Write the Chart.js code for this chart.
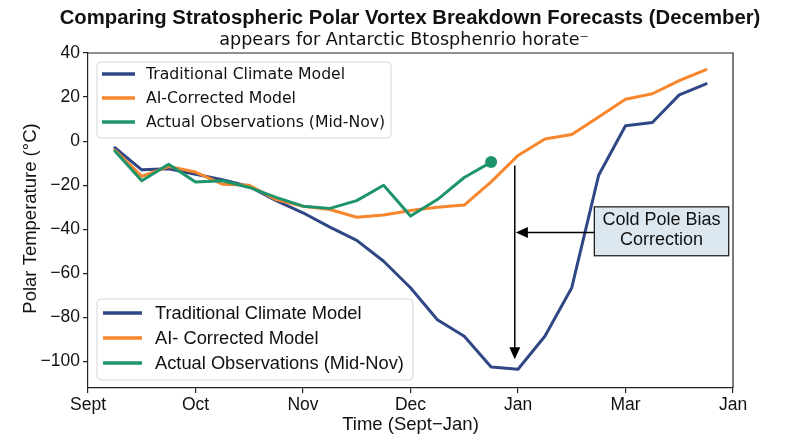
<!DOCTYPE html>
<html>
<head>
<meta charset="utf-8">
<script src="https://cdn.jsdelivr.net/npm/chart.js@4.4.1/dist/chart.umd.min.js"></script>
<style>
  html, body { margin: 0; padding: 0; background: #ffffff; }
  #wrap { width: 800px; height: 447px; }
</style>
</head>
<body>
<div id="wrap"><canvas id="c" width="800" height="447"></canvas></div>
<script>
// ---------- data ----------
const titleText = 'Comparing Stratospheric Polar Vortex Breakdown Forecasts (December)';
const subtitleText = 'appears for Antarctic Btosphenrio horate\u207B';
const xAxisTitle = 'Time (Sept\u2212Jan)';
const yAxisTitle = 'Polar Temperature (\u00B0C)';

const monthTickLabels = ['Sept', 'Oct', 'Nov', 'Dec', 'Jan', 'Mar', 'Jan'];
const yTickValues = [40, 20, 0, -20, -40, -60, -80, -100];

const modelTimes = [0.25, 0.5, 0.75, 1.0, 1.25, 1.5, 1.75, 2.0, 2.25, 2.5, 2.75, 3.0,
                    3.25, 3.5, 3.75, 4.0, 4.25, 4.5, 4.75, 5.0, 5.25, 5.5, 5.75];
const obsTimes = [0.25, 0.5, 0.75, 1.0, 1.25, 1.5, 1.75, 2.0, 2.25, 2.5, 2.75, 3.0,
                  3.25, 3.5, 3.75];

const traditionalModel = [-3, -13, -12.5, -15, -17.5, -20.5, -27, -32.5, -39, -45, -54.5, -66.5,
                          -81, -88.5, -102.5, -103.5, -88.5, -66.5, -15.5, 7, 8.5, 21, 26];
const aiCorrectedModel = [-4, -16, -11.5, -14, -19.5, -20, -26.5, -29.5, -31, -34.5, -33.5, -31.5,
                          -30, -29, -18.5, -6.5, 1, 3, 11, 19, 21.5, 27.5, 32.5];
const actualObservations = [-4.5, -18, -10.5, -18.5, -18, -21, -25.5, -29.5, -30.5, -27, -20, -34,
                            -26.5, -16.5, -9.5];

const seriesLabels = ['Traditional Climate Model', 'AI-Corrected Model', 'Actual Observations (Mid-Nov)'];
const secondLegendLabels = ['Traditional Climate Model', 'AI- Corrected Model', 'Actual Observations (Mid-Nov)'];

// annotation anchors (data coordinates)
const verticalArrow = { x: 3.97, yStart: -11, yEnd: -99 };
const horizontalArrow = { xStart: 4.71, xEnd: 3.98, y: -41.5 };
const noteBox = { x1: 4.71, x2: 5.96, y1: -29.8, y2: -52 };
const noteLines = ['Cold Pole Bias', 'Correction'];
const noteLineY = [-35.6, -44.8];

// ---------- styles ----------
const NAVY = '#2f4885';
const ORANGE = '#f7862d';
const GREEN = '#1e946a';
const AXIS = '#222222';

function pts(xs, ys) { return xs.map((x, i) => ({ x: x, y: ys[i] })); }

const decorPlugin = {
  id: 'decor',
  afterDatasetsDraw(chart) {
    const ctx = chart.ctx;
    const xs = chart.scales.x, ys = chart.scales.y;
    const ca = chart.chartArea;
    ctx.save();

    // frame top + right
    ctx.strokeStyle = AXIS;
    ctx.lineWidth = 1.2;
    ctx.beginPath();
    ctx.moveTo(ca.left, ca.top);
    ctx.lineTo(ca.right, ca.top);
    ctx.lineTo(ca.right, ca.bottom);
    ctx.stroke();

    // vertical arrow
    const vx = xs.getPixelForValue(verticalArrow.x);
    const vy1 = ys.getPixelForValue(verticalArrow.yStart);
    const vy2 = ys.getPixelForValue(verticalArrow.yEnd);
    ctx.strokeStyle = '#000';
    ctx.fillStyle = '#000';
    ctx.lineWidth = 1.5;
    ctx.beginPath();
    ctx.moveTo(vx, vy1);
    ctx.lineTo(vx, vy2 - 10);
    ctx.stroke();
    ctx.beginPath();
    ctx.moveTo(vx, vy2);
    ctx.lineTo(vx - 5.5, vy2 - 12);
    ctx.lineTo(vx + 5.5, vy2 - 12);
    ctx.closePath();
    ctx.fill();

    // horizontal arrow
    const hx1 = xs.getPixelForValue(horizontalArrow.xStart);
    const hx2 = xs.getPixelForValue(horizontalArrow.xEnd);
    const hy = ys.getPixelForValue(horizontalArrow.y);
    ctx.beginPath();
    ctx.moveTo(hx1, hy);
    ctx.lineTo(hx2 + 10, hy);
    ctx.stroke();
    ctx.beginPath();
    ctx.moveTo(hx2, hy);
    ctx.lineTo(hx2 + 12, hy - 5.5);
    ctx.lineTo(hx2 + 12, hy + 5.5);
    ctx.closePath();
    ctx.fill();

    // note box
    const bx1 = xs.getPixelForValue(noteBox.x1), bx2 = xs.getPixelForValue(noteBox.x2);
    const by1 = ys.getPixelForValue(noteBox.y1), by2 = ys.getPixelForValue(noteBox.y2);
    ctx.fillStyle = '#dce7f0';
    ctx.fillRect(bx1, by1, bx2 - bx1, by2 - by1);
    ctx.lineWidth = 1.2;
    ctx.strokeStyle = '#111';
    ctx.strokeRect(bx1, by1, bx2 - bx1, by2 - by1);
    ctx.fillStyle = '#111';
    ctx.font = '18px "Liberation Sans", Arial, sans-serif';
    ctx.textAlign = 'center';
    ctx.textBaseline = 'middle';
    noteLines.forEach((t, i) => {
      ctx.fillText(t, (bx1 + bx2) / 2, ys.getPixelForValue(noteLineY[i]));
    });

    // legends
    const colors = chart.data.datasets.map(d => d.borderColor);
    function legend(box, rows, lineX1, lineX2, textX, labels, font) {
      ctx.beginPath();
      if (ctx.roundRect) ctx.roundRect(box.x, box.y, box.w, box.h, 4);
      else ctx.rect(box.x, box.y, box.w, box.h);
      ctx.fillStyle = 'rgba(255,255,255,0.85)';
      ctx.fill();
      ctx.strokeStyle = '#d5d5d5';
      ctx.lineWidth = 1;
      ctx.stroke();
      ctx.font = font;
      ctx.textAlign = 'left';
      ctx.textBaseline = 'middle';
      labels.forEach((lab, i) => {
        ctx.strokeStyle = colors[i];
        ctx.lineWidth = 3.5;
        ctx.beginPath();
        ctx.moveTo(lineX1, rows[i]);
        ctx.lineTo(lineX2, rows[i]);
        ctx.stroke();
        ctx.fillStyle = '#111';
        ctx.fillText(lab, textX, rows[i] + 1);
      });
    }
    const L = ca.left, T = ca.top;
    legend({ x: L + 9, y: T + 9, w: 294, h: 76 },
           [T + 21, T + 45, T + 69], L + 14, L + 47, L + 58,
           chart.data.datasets.map(d => d.label), '15.7px "DejaVu Sans", sans-serif');
    const B = ca.bottom;
    legend({ x: L + 9, y: B - 89, w: 316, h: 81 },
           [B - 75, B - 50, B - 25], L + 15, L + 54, L + 67,
           secondLegendLabels, '18.3px "Liberation Sans", Arial, sans-serif');

    ctx.restore();
  },
  afterDraw(chart) {
    const ctx = chart.ctx;
    const ca = chart.chartArea;
    ctx.save();
    ctx.fillStyle = '#111';
    ctx.textAlign = 'center';
    ctx.textBaseline = 'middle';
    ctx.font = 'bold 20.3px "Liberation Sans", Arial, sans-serif';
    ctx.fillText(titleText, 410, 18);
    ctx.font = '17.6px "DejaVu Sans", sans-serif';
    ctx.fillText(subtitleText, 404, 40);
    ctx.font = '18.5px "Liberation Sans", Arial, sans-serif';
    ctx.fillText(xAxisTitle, (ca.left + ca.right) / 2, 425);
    ctx.translate(31, (ca.top + ca.bottom) / 2 - 2);
    ctx.rotate(-Math.PI / 2);
    ctx.fillText(yAxisTitle, 0, 0);
    ctx.restore();
  }
};

const tickFont = { family: '"Liberation Sans", Arial, sans-serif', size: 17.5 };

new Chart(document.getElementById('c'), {
  type: 'line',
  data: {
    datasets: [
      { label: seriesLabels[0], data: pts(modelTimes, traditionalModel), borderColor: NAVY,
        backgroundColor: NAVY, borderWidth: 3, pointRadius: 0, tension: 0, order: 3,
        borderJoinStyle: 'round', borderCapStyle: 'round' },
      { label: seriesLabels[1], data: pts(modelTimes, aiCorrectedModel), borderColor: ORANGE,
        backgroundColor: ORANGE, borderWidth: 3, pointRadius: 0, tension: 0, order: 2,
        borderJoinStyle: 'round', borderCapStyle: 'round' },
      { label: seriesLabels[2], data: pts(obsTimes, actualObservations), borderColor: GREEN,
        backgroundColor: GREEN, borderWidth: 3, tension: 0, order: 1,
        pointRadius: ctx => (ctx.dataIndex === actualObservations.length - 1 ? 6 : 0),
        pointBorderWidth: 0, pointBackgroundColor: GREEN,
        borderJoinStyle: 'round', borderCapStyle: 'round' }
    ]
  },
  options: {
    responsive: false,
    animation: false,
    devicePixelRatio: 1,
    layout: { padding: { left: 0, right: 67, top: 53, bottom: 0 } },
    plugins: {
      legend: { display: false },
      title: { display: false },
      tooltip: { enabled: false }
    },
    scales: {
      x: {
        type: 'linear', min: 0, max: 6,
        afterFit(s) { s.height = 59; },
        afterBuildTicks(s) { s.ticks = monthTickLabels.map((_, i) => ({ value: i })); },
        ticks: {
          autoSkip: false, maxRotation: 0, padding: 2, color: '#111', font: tickFont,
          callback: v => monthTickLabels[v]
        },
        grid: { display: true, drawOnChartArea: false, drawTicks: true, tickLength: 5, color: AXIS, lineWidth: 1.2 },
        border: { display: true, color: AXIS, width: 1.2 }
      },
      y: {
        type: 'linear', min: -112, max: 40,
        afterFit(s) { s.width = 88; },
        afterBuildTicks(s) { s.ticks = yTickValues.map(v => ({ value: v })); },
        ticks: {
          padding: 3, color: '#111', font: tickFont,
          callback: v => String(v).replace('-', '\u2212')
        },
        grid: { display: true, drawOnChartArea: false, drawTicks: true, tickLength: 5, color: AXIS, lineWidth: 1.2 },
        border: { display: true, color: AXIS, width: 1.2 }
      }
    }
  },
  plugins: [decorPlugin]
});
</script>
</body>
</html>
